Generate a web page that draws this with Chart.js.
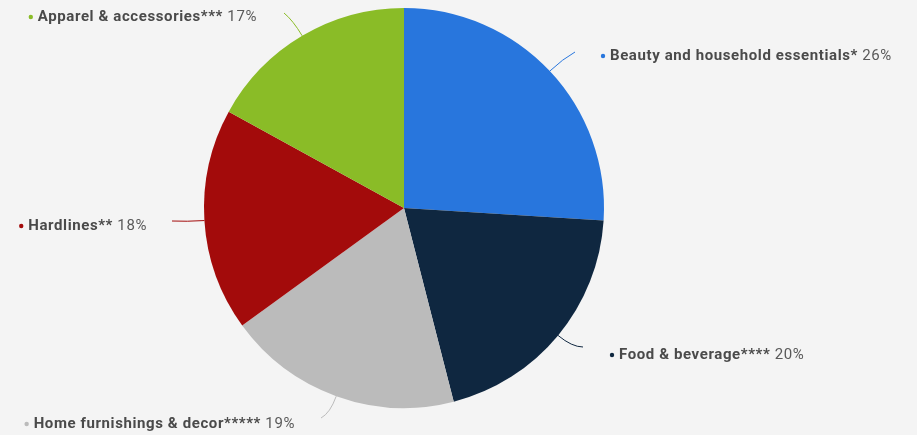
<!DOCTYPE html>
<html lang="en">
<head>
  <meta charset="UTF-8">
  <title>Sales share by category</title>
  <style>
    html, body { margin: 0; padding: 0; background: #f4f4f4; }
    #wrap { width: 917px; height: 435px; }
  </style>
</head>
<body>
  <div id="wrap"><canvas id="shareChart" width="917" height="435"></canvas></div>

  <script src="https://cdn.jsdelivr.net/npm/chart.js"></script>
  <script>
    const categories = [
      'Beauty and household essentials*',
      'Food & beverage****',
      'Home furnishings & decor*****',
      'Hardlines**',
      'Apparel & accessories***'
    ];
    const shares = [26, 20, 19, 18, 17];
    const colors = ['#2876dd', '#0f2740', '#bbbbbb', '#a30b0b', '#8abc27'];

    // where each connector ends and which side the label sits on
    const labelSpots = [
      { x: 575, y: 52, tx: 610, ty: 56, side: 'right' },
      { x: 583, y: 347, tx: 619, ty: 355, side: 'right' },
      { x: 321, y: 418, tx: 295, ty: 424, side: 'left' },
      { x: 172, y: 221, tx: 147, ty: 226, side: 'left' },
      { x: 284, y: 13, tx: 257, ty: 17, side: 'left' }
    ];

    const boldFont = 'bold 15px Roboto, "Liberation Sans", sans-serif';
    const plainFont = '15px Roboto, "Liberation Sans", sans-serif';

    const sliceLabels = {
      id: 'sliceLabels',
      afterDatasetsDraw(chart) {
        const ctx = chart.ctx;
        const arcs = chart.getDatasetMeta(0).data;
        ctx.save();
        arcs.forEach((arc, i) => {
          const spot = labelSpots[i];
          const mid = (arc.startAngle + arc.endAngle) / 2;
          const sx = arc.x + Math.cos(mid) * arc.outerRadius;
          const sy = arc.y + Math.sin(mid) * arc.outerRadius;
          const cx = arc.x + Math.cos(mid) * (arc.outerRadius + 18);
          const cy = arc.y + Math.sin(mid) * (arc.outerRadius + 18);

          ctx.strokeStyle = colors[i];
          ctx.lineWidth = 1;
          ctx.beginPath();
          ctx.moveTo(sx, sy);
          ctx.quadraticCurveTo(cx, cy, spot.x, spot.y);
          ctx.stroke();

          const name = categories[i];
          const pct = ' ' + shares[i] + '%';
          ctx.letterSpacing = '0.6px';
          ctx.textBaseline = 'middle';
          ctx.font = boldFont;
          const nameW = ctx.measureText(name).width;
          ctx.font = plainFont;
          const pctW = ctx.measureText(pct).width;

          const left = spot.side === 'right' ? spot.tx : spot.tx - nameW - pctW;

          ctx.fillStyle = colors[i];
          ctx.beginPath();
          ctx.arc(left - 7, spot.ty, 2.2, 0, Math.PI * 2);
          ctx.fill();

          ctx.textAlign = 'left';
          ctx.fillStyle = '#4a4a4a';
          ctx.font = boldFont;
          ctx.fillText(name, left, spot.ty);
          ctx.fillStyle = '#595959';
          ctx.font = plainFont;
          ctx.fillText(pct, left + nameW, spot.ty);
        });
        ctx.restore();
      }
    };

    new Chart(document.getElementById('shareChart'), {
      type: 'pie',
      data: {
        labels: categories,
        datasets: [{
          data: shares,
          backgroundColor: colors,
          borderWidth: 0
        }]
      },
      options: {
        responsive: false,
        animation: false,
        layout: { padding: { top: 8, bottom: 27, left: 0, right: 109 } },
        plugins: {
          legend: { display: false },
          tooltip: { enabled: false }
        }
      },
      plugins: [sliceLabels]
    });
  </script>
</body>
</html>
